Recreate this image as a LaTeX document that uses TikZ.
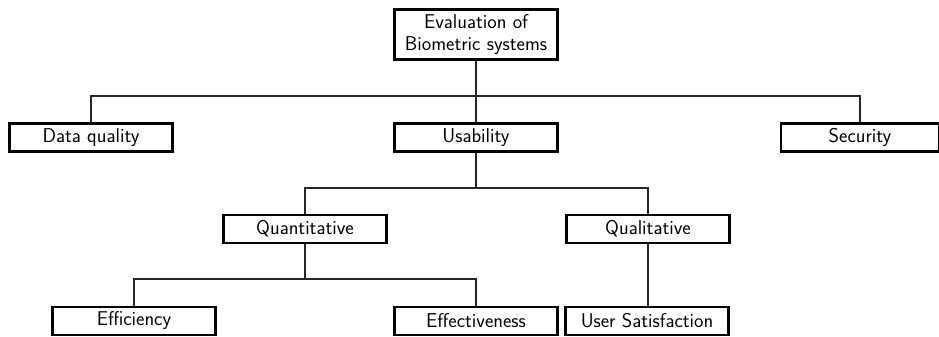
\documentclass[tikz,border=0pt]{standalone}
\usepackage{fontspec}
\begin{document}
\begin{tikzpicture}[x=1pt,y=-1pt,
  box/.style={draw=black, line width=2.8pt, fill=white, minimum width=163pt, minimum height=28pt, inner sep=0pt, align=center, font=\fontsize{20}{22}\selectfont\sffamily},
  conn/.style={draw=black!85, line width=1.5pt}]
\useasboundingbox (0,0) rectangle (939,337);
\node[box, minimum height=50.5pt] (root) at (476,34.5) {Evaluation of\\Biometric systems};
\node[box] (dq) at (91,137.5) {Data quality};
\node[box] (us) at (476,137.5) {Usability};
\node[box, minimum width=158pt] (sec) at (860,137.5) {Security};
\node[box] (qn) at (305,229) {Quantitative};
\node[box] (ql) at (648,229) {Qualitative};
\node[box] (ef) at (134,321) {Efficiency};
\node[box] (ev) at (476,321) {Effectiveness};
\node[box] (uss) at (647,321) {User Satisfaction};
\coordinate (b1) at (0,96);
\coordinate (b2) at (0,188);
\coordinate (b3) at (0,279);
\draw[conn] (root.south) -- (us.north);
\draw[conn] (dq.north) -- (dq.north |- b1) -- (sec.north |- b1) -- (sec.north);
\draw[conn] (us.south) -- (us.south |- b2);
\draw[conn] (qn.north) -- (qn.north |- b2) -- (ql.north |- b2) -- (ql.north);
\draw[conn] (qn.south) -- (qn.south |- b3);
\draw[conn] (ef.north) -- (ef.north |- b3) -- (ev.north |- b3) -- (ev.north);
\draw[conn] (ql.south) -- (ql.south |- uss.north);
\end{tikzpicture}
\end{document}
